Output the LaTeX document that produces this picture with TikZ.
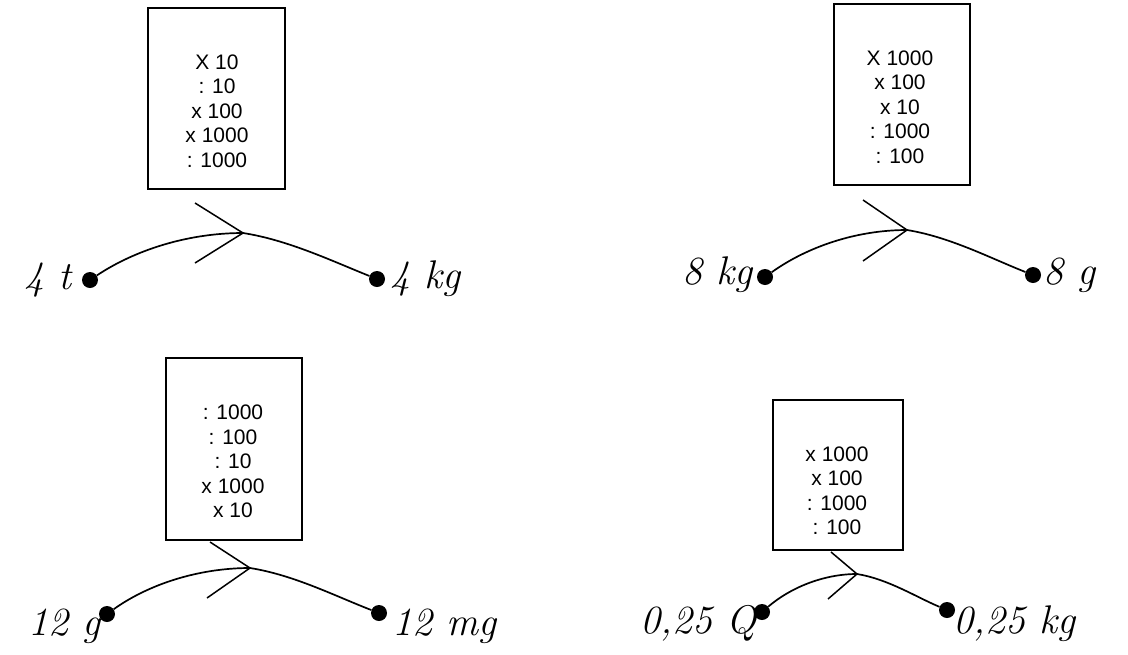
\documentclass[tikz,border=0pt]{standalone}
\usepackage{fontspec}
\newfontfamily\opsfont{Liberation Sans}
\usetikzlibrary{calc}
\begin{document}
\begin{tikzpicture}[x=1pt,y=-1pt,
  opbox/.style={draw, line width=1.6pt, inner sep=0pt},
  ops/.style={font=\opsfont\fontsize{21}{24.5}\selectfont, align=center, inner sep=0pt},
  dotnode/.style={circle, fill=black, inner sep=0pt, minimum size=16pt},
  hw/.style={font=\fontsize{40}{44}\selectfont\itshape, inner sep=0pt},
  conn/.style={line width=1.7pt},
  chev/.style={line width=1.5pt}]
\path[fill=white,use as bounding box] (0,0) rectangle (1128,654);

% Panel 1
\node[opbox, minimum width=137pt, minimum height=181pt] (b1) at (216.5,98.5) {};
\node[ops] (t1) at (217,111) {X 10\\: 10\\x 100\\x 1000\\: 1000};
\node[dotnode] (l1) at (90,280) {};
\node[dotnode] (r1) at (377,279) {};
\coordinate (a1) at (243,233);
\draw[conn] (l1) .. controls +(45,-30) and +(-55,0) .. (a1) .. controls +(45,7) and +(-45,-18) .. (r1);
\draw[chev] ($(a1)+(-48,-30)$) -- (a1) -- ($(a1)+(-48,30)$);
\node[hw, anchor=base east] (n1) at (72,289) {4 t};
\node[hw, anchor=base west] (m1) at (390,288) {4 kg};

% Panel 2
\node[opbox, minimum width=136pt, minimum height=181pt] (b2) at (902,94.5) {};
\node[ops] (t2) at (900,107) {X 1000\\x 100\\x 10\\: 1000\\: 100};
\node[dotnode] (l2) at (765,277) {};
\node[dotnode] (r2) at (1033,275) {};
\coordinate (a2) at (907,230);
\draw[conn] (l2) .. controls +(42,-30) and +(-51,0) .. (a2) .. controls +(43,7) and +(-43,-17) .. (r2);
\draw[chev] ($(a2)+(-44,-30)$) -- (a2) -- ($(a2)+(-44,31)$);
\node[hw, anchor=base east] (n2) at (753,284) {8 kg};
\node[hw, anchor=base west] (m2) at (1043,284) {8 g};

% Panel 3
\node[opbox, minimum width=136pt, minimum height=182pt] (b3) at (234,449) {};
\node[ops] (t3) at (233,461.5) {: 1000\\: 100\\: 10\\x 1000\\x 10};
\node[dotnode] (l3) at (107,614) {};
\node[dotnode] (r3) at (379,613) {};
\coordinate (a3) at (250,568);
\draw[conn] (l3) .. controls +(42,-30) and +(-51,0) .. (a3) .. controls +(44,7) and +(-44,-17) .. (r3);
\draw[chev] ($(a3)+(-40,-26)$) -- (a3) -- ($(a3)+(-43,30)$);
\node[hw, anchor=base east] (n3) at (101,635) {12 g};
\node[hw, anchor=base west] (m3) at (392,635) {12 mg};

% Panel 4
\node[opbox, minimum width=130pt, minimum height=150pt] (b4) at (838,475) {};
\node[ops] (t4) at (837,491) {x 1000\\x 100\\: 1000\\: 100};
\node[dotnode] (l4) at (762,612) {};
\node[dotnode] (r4) at (947,610) {};
\coordinate (a4) at (857,574);
\draw[conn] (l4) .. controls +(28,-24) and +(-34,0) .. (a4) .. controls +(31,5) and +(-31,-13) .. (r4);
\draw[chev] ($(a4)+(-26,-22)$) -- (a4) -- ($(a4)+(-29,25)$);
\node[hw, anchor=base east] (n4) at (757,633) {0,25 Q};
\node[hw, anchor=base west] (m4) at (953,633) {0,25 kg};
\end{tikzpicture}
\end{document}
